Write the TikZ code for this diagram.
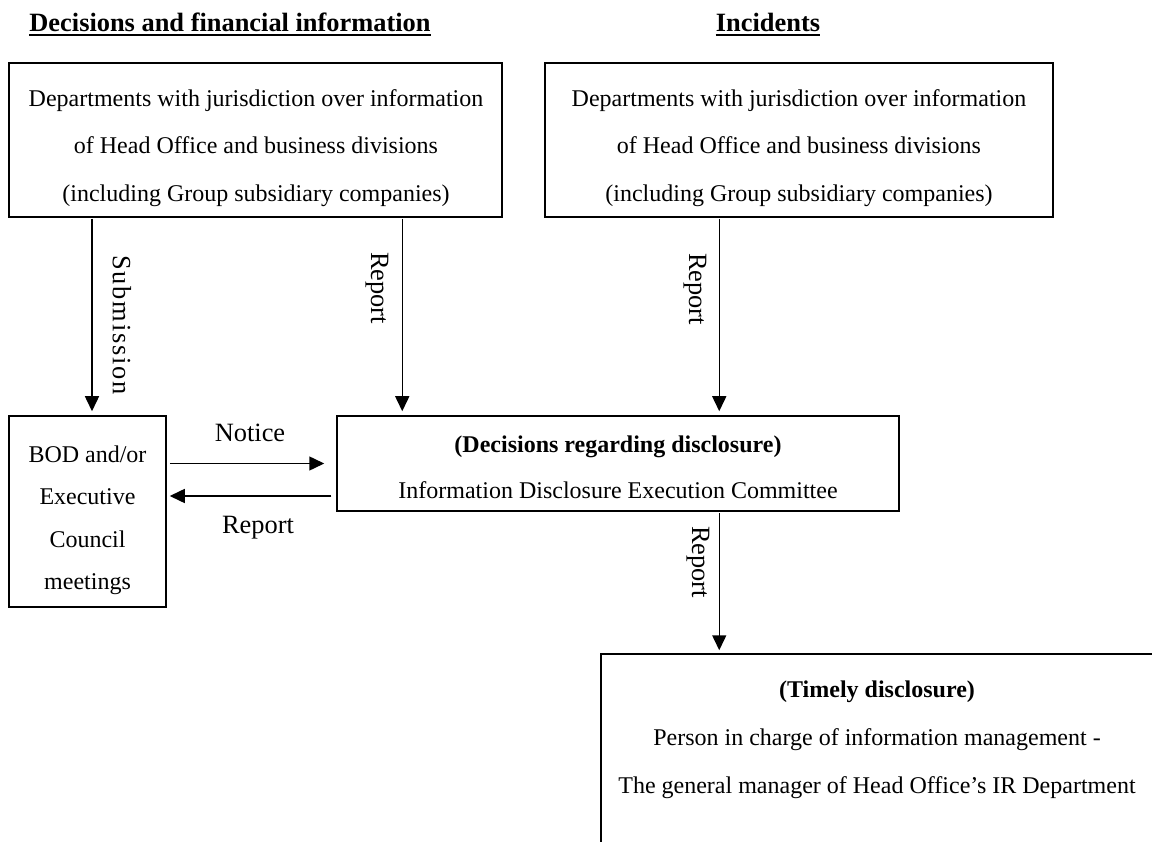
\documentclass[tikz,border=0pt]{standalone}
\usepackage{fontspec}
\setmainfont{Liberation Serif}
\usetikzlibrary{arrows.meta,calc}
\begin{document}
\begin{tikzpicture}[x=1pt,y=-1pt,
  box/.style={draw, line width=1.5pt, inner sep=0pt},
  txt/.style={font=\fontsize{24}{28}\selectfont, inner sep=0pt, anchor=base},
  btxt/.style={font=\fontsize{24}{28}\selectfont\bfseries, inner sep=0pt, anchor=base},
  lbl/.style={font=\fontsize{26.4}{30}\selectfont, inner sep=0pt},
  ttl/.style={font=\fontsize{26.4}{30}\selectfont\bfseries, inner sep=0pt, anchor=base},
  uline/.style={line width=1.5pt},
  arr/.style={line width=1.5pt, -{Triangle[length=15pt,width=14pt]}}]
\clip (0,0) rectangle (1152,842);
\fill[white] (0,0) rectangle (1152,842);
% titles
\node[ttl] (t1) at (230,32) {Decisions and financial information};
\node[ttl] (t2) at (768,32) {Incidents};
\draw[uline] ([yshift=-3pt]t1.base west) -- ([yshift=-3pt]t1.base east);
\draw[uline] ([yshift=-3pt]t2.base west) -- ([yshift=-3pt]t2.base east);
% box A
\node[box, minimum width=493pt, minimum height=154pt] (A) at (255.5,140) {};
\node[txt] (a1) at (256,107) {Departments with jurisdiction over information};
\node[txt] (a2) at (256,154) {of Head Office and business divisions};
\node[txt] (a3) at (256,202) {(including Group subsidiary companies)};
% box B
\node[box, minimum width=508pt, minimum height=154pt] (B) at (799,140) {};
\node[txt] (b1) at (799,107) {Departments with jurisdiction over information};
\node[txt] (b2) at (799,154) {of Head Office and business divisions};
\node[txt] (b3) at (799,202) {(including Group subsidiary companies)};
% BOD box
\node[box, minimum width=157pt, minimum height=191pt] (BOD) at (87.5,511.5) {};
\node[txt] (d1) at (87.5,462) {BOD and/or};
\node[txt] (d2) at (87.5,504.5) {Executive};
\node[txt] (d3) at (87.5,547) {Council};
\node[txt] (d4) at (87.5,589) {meetings};
% committee box
\node[box, minimum width=562pt, minimum height=95pt] (C) at (618,463.5) {};
\node[btxt] (c1) at (618,452) {(Decisions regarding disclosure)};
\node[txt] (c2) at (618,498) {Information Disclosure Execution Committee};
% timely disclosure box (cut off by the page edge)
\node[box, minimum width=559pt, minimum height=216pt] (D) at (880.5,762) {};
\node[btxt] (e1) at (877,697) {(Timely disclosure)};
\node[txt] (e2) at (877,745) {Person in charge of information management -};
\node[txt] (e3) at (877,793) {The general manager of Head Office’s IR Department};
% connector anchors
\coordinate (s1) at ([xshift=4.5pt]BOD.north);
\coordinate (r1) at ([xshift=66pt]C.north west);
\coordinate (r2) at ([xshift=383pt]C.north west);
\coordinate (r3) at ([xshift=119pt]D.north west);
\coordinate (r4) at ([yshift=-32.5pt]C.west);
% connectors
\draw[arr, shorten <=1pt, shorten >=4pt] (s1 |- A.south) -- (s1);
\draw[arr, shorten <=1pt, shorten >=4pt] (r1 |- A.south) -- (r1);
\draw[arr, shorten <=1pt, shorten >=4pt] (r2 |- B.south) -- (r2);
\draw[arr, shorten <=1pt, shorten >=3pt] (r3 |- C.south) -- (r3);
\draw[arr, shorten <=3pt, shorten >=12pt] (BOD.east |- C.west) -- (C.west);
\draw[arr, shorten <=5pt, shorten >=3pt] (r4) -- (r4 -| BOD.east);
% labels
\node[lbl, rotate=-90, font=\fontsize{26.4}{30}\selectfont\addfontfeature{LetterSpace=7}] (lsub) at (122,325) {Submission};
\node[lbl, rotate=-90] (lr1) at (377,288) {Report};
\node[lbl, rotate=-90] (lr2) at (695,289) {Report};
\node[lbl, rotate=-90] (lr3) at (698,562) {Report};
\node[lbl, anchor=base] (ln) at (250,441) {Notice};
\node[lbl, anchor=base] (lr4) at (258,533) {Report};
\end{tikzpicture}
\end{document}
